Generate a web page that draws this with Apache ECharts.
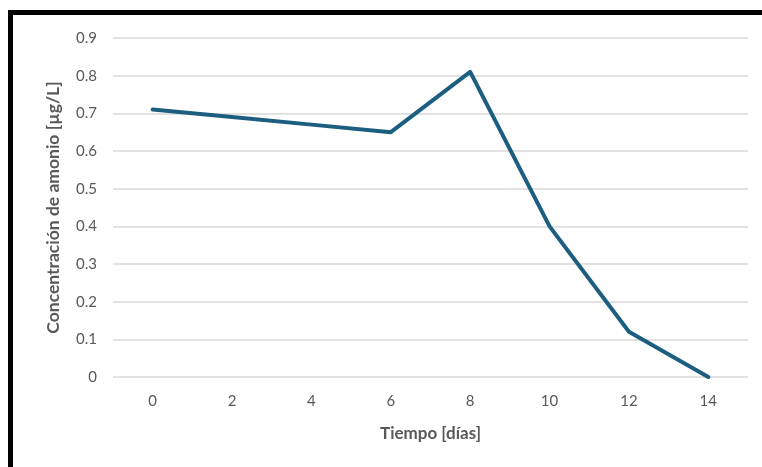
<!DOCTYPE html>
<html>
<head>
<meta charset="utf-8">
<script src="https://cdn.jsdelivr.net/npm/echarts@6/dist/echarts.min.js"></script>
<style>
	html, body { margin: 0; padding: 0; background: #fff; overflow: hidden; }
	#frame {
		position: absolute; left: 8px; top: 10px; width: 800px; height: 500px;
		border-left: 5px solid #000; border-top: 5px solid #000; box-sizing: border-box;
	}
	#chart { position: absolute; left: 0; top: 0; width: 762px; height: 467px; }
</style>
</head>
<body>
<div id="frame"></div>
<div id="chart"></div>
<script>
// datos
const dias = ["0", "2", "4", "6", "8", "10", "12", "14"];
const amonio = [0.71, 0.69, 0.67, 0.65, 0.81, 0.40, 0.12, 0.0];

const myChart = echarts.init(document.getElementById("chart"));
const option = {
	animation: false,
	textStyle: { fontFamily: "Lato" },
	grid: { left: 113, right: 14, top: 38, bottom: 90 },
	xAxis: {
		type: "category",
		data: dias,
		boundaryGap: true,
		name: "Tiempo [días]",
		nameLocation: "middle",
		nameGap: 48,
		nameTextStyle: { color: "#595959", fontSize: 17, fontWeight: "bold" },
		axisLine: { show: false },
		axisTick: { show: false },
		axisLabel: { color: "#595959", fontSize: 15, margin: 17 }
	},
	yAxis: {
		type: "value",
		min: 0,
		max: 0.9,
		interval: 0.1,
		name: "Concentración de amonio [µg/L]",
		nameLocation: "middle",
		nameGap: 51,
		nameTextStyle: { color: "#595959", fontSize: 17.5, fontWeight: "bold", padding: [0, 0, 0, 0] },
		axisLabel: {
			color: "#595959", fontSize: 15, margin: 16,
			formatter: v => (Math.round(v * 10) / 10).toString()
		},
		splitLine: { lineStyle: { color: "#d9d9d9", width: 1.5 } }
	},
	series: [{
		type: "line",
		data: amonio,
		symbol: "none",
		lineStyle: { color: "#1b5e80", width: 4, cap: "round", join: "round" }
	}]
};
myChart.setOption(option);
</script>
</body>
</html>
